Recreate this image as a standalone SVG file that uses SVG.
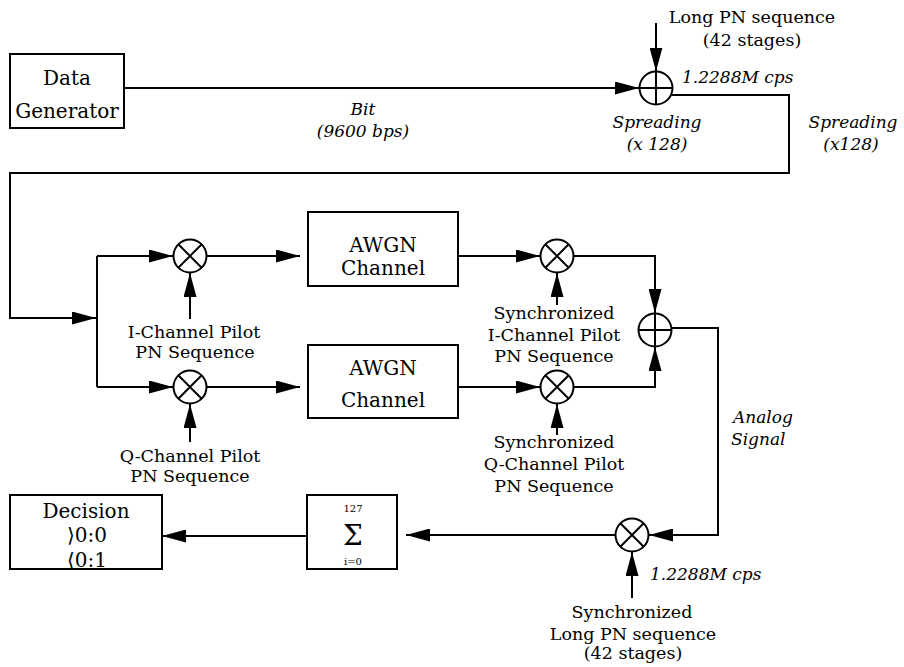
<svg xmlns="http://www.w3.org/2000/svg" width="904" height="667" viewBox="0 0 904 667">
<style>
.ln{fill:none;stroke:#000;stroke-width:2}
.bx{fill:#fff;stroke:#000;stroke-width:2}
.ci{fill:#fff;stroke:#000;stroke-width:2}
.t{font-family:"DejaVu Serif","Liberation Serif",serif;fill:#000;text-anchor:middle}
.b{font-size:20px}
.s{font-size:17.5px}
.i{font-size:17px;font-style:italic}
.st{text-anchor:start}
</style>
<defs>
<marker id="ah" viewBox="0 0 24 13" refX="24" refY="6.5" markerWidth="24" markerHeight="13" markerUnits="userSpaceOnUse" orient="auto">
<path d="M0,0 L24,6.5 L0,13 z" fill="#000"/>
</marker>
<g id="mul"><circle r="16.5" class="ci"/><path d="M-11.7,-11.7 L11.7,11.7 M11.7,-11.7 L-11.7,11.7" class="ln"/></g>
<g id="add"><circle r="16.5" class="ci"/><path d="M-16.5,0 L16.5,0 M0,-16.5 L0,16.5" class="ln"/></g>
</defs>
<rect width="904" height="667" fill="#fff"/>

<g id="connectors">
<path class="ln" d="M124,88 L639,88" marker-end="url(#ah)"/>
<path class="ln" d="M656,23 L656,71.5" marker-end="url(#ah)"/>
<path class="ln" d="M672,95 L789,95 L789,173 L10,173 L10,318 L96,318" marker-end="url(#ah)"/>
<path class="ln" d="M97,256 L97,387"/>
<path class="ln" d="M97,256 L173,256" marker-end="url(#ah)"/>
<path class="ln" d="M97,387 L173,387" marker-end="url(#ah)"/>
<path class="ln" d="M190,319 L190,273" marker-end="url(#ah)"/>
<path class="ln" d="M190,442 L190,404" marker-end="url(#ah)"/>
<path class="ln" d="M207,256 L300,256" marker-end="url(#ah)"/>
<path class="ln" d="M207,387 L300,387" marker-end="url(#ah)"/>
<path class="ln" d="M458,256 L540,256" marker-end="url(#ah)"/>
<path class="ln" d="M458,387 L540,387" marker-end="url(#ah)"/>
<path class="ln" d="M557,305 L557,273" marker-end="url(#ah)"/>
<path class="ln" d="M557,435 L557,404" marker-end="url(#ah)"/>
<path class="ln" d="M573,256 L655,256 L655,313" marker-end="url(#ah)"/>
<path class="ln" d="M573,387 L655,387 L655,347" marker-end="url(#ah)"/>
<path class="ln" d="M671,328 L718,328 L718,535 L649,535" marker-end="url(#ah)"/>
<path class="ln" d="M632,598 L632,552" marker-end="url(#ah)"/>
<path class="ln" d="M615,535 L406,535" marker-end="url(#ah)"/>
<path class="ln" d="M307,536 L162,536" marker-end="url(#ah)"/>
</g>

<g id="data-generator">
<rect class="bx" x="10" y="54" width="114" height="74"/>
<text class="t b" x="67" y="85">Data</text>
<text class="t b" x="67" y="118">Generator</text>
</g>

<g id="spread-adder">
<use href="#add" x="656" y="88"/>
<text class="t s" x="752" y="23">Long PN sequence</text>
<text class="t s" x="752" y="46">(42 stages)</text>
<text class="t i st" x="682" y="83">1.2288M cps</text>
<text class="t i" x="657" y="128">Spreading</text>
<text class="t i" x="657" y="150">(x 128)</text>
</g>

<g id="labels-top">
<text class="t i" x="363" y="115">Bit</text>
<text class="t i" x="363" y="137">(9600 bps)</text>
<text class="t i" x="853" y="128">Spreading</text>
<text class="t i" x="851" y="150">(x128)</text>
</g>

<g id="mult-i">
<use href="#mul" x="190" y="256"/>
<text class="t s" x="194" y="338">I-Channel Pilot</text>
<text class="t s" x="195" y="358">PN Sequence</text>
</g>

<g id="mult-q">
<use href="#mul" x="190" y="387"/>
<text class="t s" x="190" y="462">Q-Channel Pilot</text>
<text class="t s" x="190" y="482">PN Sequence</text>
</g>

<g id="awgn-1">
<rect class="bx" x="308" y="212" width="150" height="74"/>
<text class="t b" x="383" y="252">AWGN</text>
<text class="t b" x="383" y="275">Channel</text>
</g>

<g id="awgn-2">
<rect class="bx" x="308" y="345" width="150" height="73"/>
<text class="t b" x="383" y="375">AWGN</text>
<text class="t b" x="383" y="407">Channel</text>
</g>

<g id="sync-mult-i">
<use href="#mul" x="557" y="256"/>
<text class="t s" x="554" y="319">Synchronized</text>
<text class="t s" x="554" y="341">I-Channel Pilot</text>
<text class="t s" x="554" y="362">PN Sequence</text>
</g>

<g id="sync-mult-q">
<use href="#mul" x="557" y="387"/>
<text class="t s" x="554" y="448">Synchronized</text>
<text class="t s" x="554" y="470">Q-Channel Pilot</text>
<text class="t s" x="554" y="492">PN Sequence</text>
</g>

<g id="combiner">
<use href="#add" x="655" y="330"/>
<text class="t i st" x="733" y="423">Analog</text>
<text class="t i st" x="731" y="445">Signal</text>
</g>

<g id="despread-mult">
<use href="#mul" x="632" y="535"/>
<text class="t i st" x="650" y="580">1.2288M cps</text>
<text class="t s" x="632" y="618">Synchronized</text>
<text class="t s" x="633" y="640">Long PN sequence</text>
<text class="t s" x="633" y="659">(42 stages)</text>
</g>

<g id="summation">
<rect class="bx" x="307" y="495" width="90" height="74"/>
<text class="t" style="font-size:10px" x="353" y="512">127</text>
<text class="t" style="font-size:28px" x="353" y="545">Σ</text>
<text class="t" style="font-size:10px" x="353" y="565">i=0</text>
</g>

<g id="decision">
<rect class="bx" x="10" y="495" width="152" height="74"/>
<text class="t b" x="86" y="518">Decision</text>
<text class="t b" x="87" y="542">⟩0:0</text>
<text class="t b" x="87" y="567">⟨0:1</text>
</g>
</svg>
